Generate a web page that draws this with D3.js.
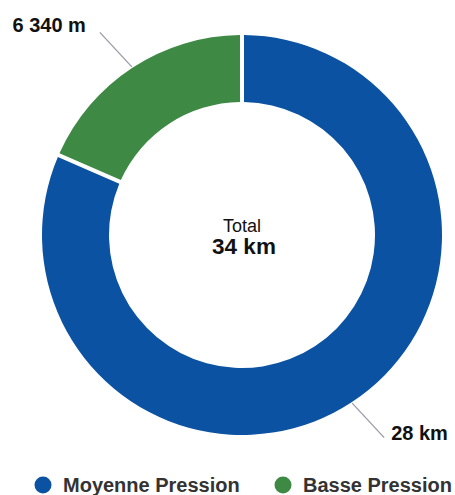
<!DOCTYPE html>
<html>
<head>
<meta charset="utf-8">
<script src="https://cdn.jsdelivr.net/npm/d3@7"></script>
<style>
  html, body { margin: 0; padding: 0; background: #fff; }
  svg { display: block; font-family: "Liberation Sans", Arial, Helvetica, sans-serif; }
</style>
</head>
<body>
<svg id="chart" width="455" height="495"></svg>
<script>
// Network lengths by pressure level (metres)
const categories = ["Moyenne Pression", "Basse Pression"];
const values = [28000, 6340];
const valueLabels = ["28 km", "6 340 m"];
const colors = ["#0b53a2", "#3e8a45"];
const totalTitle = "Total";
const totalLabel = "34 km";

const svg = d3.select("#chart");
const cx = 242, cy = 235;
const outerR = 200, innerR = 133;

const pie = d3.pie().sort(null).value(d => d.value);
const arcs = pie(categories.map((c, i) => ({ name: c, value: values[i], label: valueLabels[i], color: colors[i] })));

const arc = d3.arc()
  .innerRadius(innerR)
  .outerRadius(outerR)
  .padAngle(4 / outerR)
  .padRadius(outerR);

const g = svg.append("g").attr("transform", `translate(${cx},${cy})`);

g.selectAll("path.slice")
  .data(arcs)
  .join("path")
  .attr("class", "slice")
  .attr("d", arc)
  .attr("fill", d => d.data.color);

// Connector lines leave the ring at each slice's mid-angle and run
// diagonally outwards to the value label.
const edge = d3.arc().innerRadius(outerR + 1).outerRadius(outerR + 1);
const connDx = 32, connDy = 34.5;
const connectors = arcs.map(d => {
  const [x1, y1] = edge.centroid(d);
  const sx = x1 >= 0 ? 1 : -1, sy = y1 >= 0 ? 1 : -1;
  return { d, x1, y1, x2: x1 + sx * connDx, y2: y1 + sy * connDy, sx, sy };
});

g.selectAll("line.connector")
  .data(connectors)
  .join("line")
  .attr("class", "connector")
  .attr("x1", c => c.x1)
  .attr("y1", c => c.y1)
  .attr("x2", c => c.x2)
  .attr("y2", c => c.y2)
  .attr("stroke", "#9a9aa8")
  .attr("stroke-width", 1.3);

g.selectAll("text.value")
  .data(connectors)
  .join("text")
  .attr("class", "value")
  .attr("x", c => c.sx > 0 ? c.x2 + 7 : c.x2 - 14)
  .attr("y", c => c.sy > 0 ? c.y2 + 2 : c.y2)
  .attr("text-anchor", c => c.sx > 0 ? "start" : "end")
  .attr("font-size", 20)
  .attr("font-weight", "bold")
  .attr("fill", "#111")
  .text(c => c.d.data.label);

// Centre total
g.append("text")
  .attr("x", 0).attr("y", -3.3)
  .attr("text-anchor", "middle")
  .attr("font-size", 18)
  .attr("fill", "#111")
  .text(totalTitle);

g.append("text")
  .attr("x", 2).attr("y", 19)
  .attr("text-anchor", "middle")
  .attr("font-size", 22.5)
  .attr("font-weight", "bold")
  .attr("fill", "#111")
  .text(totalLabel);

// Legend
const legendX = [43, 283];
const legend = svg.append("g").attr("class", "legend");
const items = legend.selectAll("g")
  .data(categories)
  .join("g")
  .attr("transform", (d, i) => `translate(${legendX[i]},485)`);

items.append("circle")
  .attr("r", 8.5)
  .attr("fill", (d, i) => colors[i]);

items.append("text")
  .attr("x", 20)
  .attr("dy", "0.36em")
  .attr("font-size", 20)
  .attr("font-weight", "bold")
  .attr("fill", "#333")
  .text(d => d);
</script>
</body>
</html>
